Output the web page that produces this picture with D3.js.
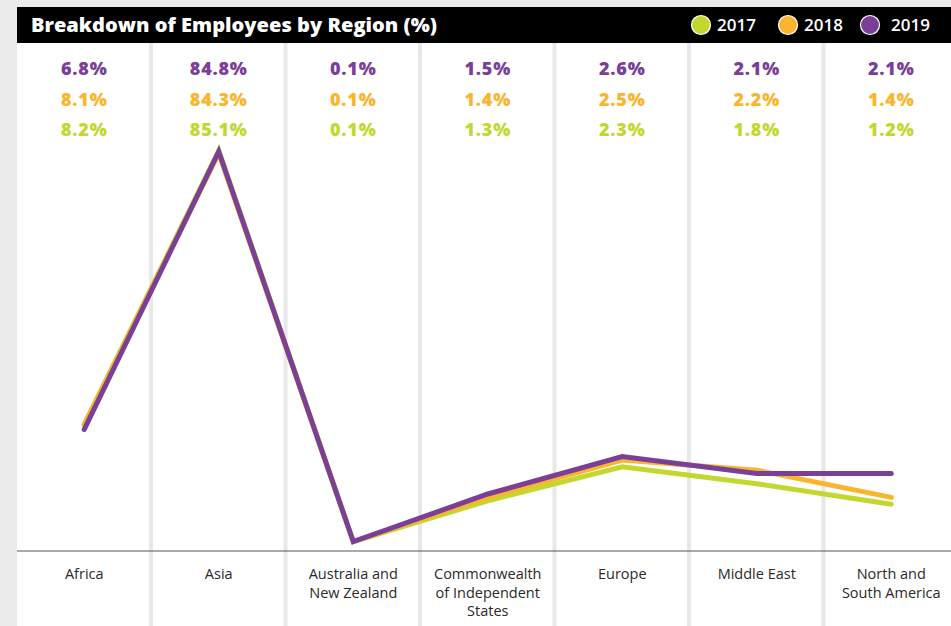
<!DOCTYPE html>
<html>
<head>
<meta charset="utf-8">
<script src="https://cdn.jsdelivr.net/npm/d3@7"></script>
<style>
  body { margin: 0; background: #ebebeb; }
  svg { display: block; font-family: "Open Sans", "Lato", sans-serif; }
</style>
</head>
<body>
<div id="chart"></div>
<script>
// datos del grafico
const regions = ["Africa", "Asia", "Australia and New Zealand", "Commonwealth of Independent States", "Europe", "Middle East", "North and South America"];
const regionLabels = [["Africa"], ["Asia"], ["Australia and", "New Zealand"], ["Commonwealth", "of Independent", "States"], ["Europe"], ["Middle East"], ["North and", "South America"]];
const years = ["2017", "2018", "2019"];
const values2017 = [8.2, 85.1, 0.1, 1.3, 2.3, 1.8, 1.2];
const values2018 = [8.1, 84.3, 0.1, 1.4, 2.5, 2.2, 1.4];
const values2019 = [6.8, 84.8, 0.1, 1.5, 2.6, 2.1, 2.1];
const colors = ["#c3d82f", "#fbb52c", "#7a3f97"];

const width = 951, height = 626;
const left = 17, colW = 134.5;
const headerTop = 7, headerBottom = 43;
const baseY = 551;

const series = [values2017, values2018, values2019];

const svg = d3.select("#chart").append("svg")
    .attr("width", width)
    .attr("height", height);

// fondo blanco del panel
svg.append("rect")
    .attr("x", left).attr("y", headerTop)
    .attr("width", width - left).attr("height", height - headerTop)
    .attr("fill", "#fff");

const x = d3.scaleBand()
    .domain(regions)
    .range([left, left + colW * regions.length]);

// escala por tramos: los valores pequeños ocupan la parte baja
const y = d3.scaleLinear()
    .domain([0, 3, 90])
    .range([baseY - 6, 443, 133]);

// separadores de columnas
svg.selectAll(".sep")
    .data(regions.slice(1))
    .enter().append("line")
    .attr("class", "sep")
    .attr("x1", d => x(d) - 0.5)
    .attr("x2", d => x(d) - 0.5)
    .attr("y1", headerBottom)
    .attr("y2", height)
    .attr("stroke", "#e8e8e8")
    .attr("stroke-width", 4);

// eje base
svg.append("line")
    .attr("x1", left).attr("x2", width)
    .attr("y1", baseY).attr("y2", baseY)
    .attr("stroke", "#555")
    .attr("stroke-width", 1.2);

// cabecera
svg.append("rect")
    .attr("x", left).attr("y", headerTop)
    .attr("width", width - left).attr("height", headerBottom - headerTop)
    .attr("fill", "#000");

svg.append("text")
    .attr("x", 31).attr("y", 32)
    .attr("fill", "#fff")
    .attr("font-size", 19)
    .attr("font-weight", 800)
    .attr("textLength", 406)
    .attr("lengthAdjust", "spacingAndGlyphs")
    .text("Breakdown of Employees by Region (%)");

const legendX = [701, 788, 870];
const legend = svg.selectAll(".legend")
    .data(years)
    .enter().append("g")
    .attr("class", "legend")
    .attr("transform", (d, i) => `translate(${legendX[i]},25)`);

legend.append("circle")
    .attr("r", 9.5)
    .attr("fill", (d, i) => colors[i])
    .attr("stroke", "#fff")
    .attr("stroke-width", 1.2);

legend.append("text")
    .attr("x", (d, i) => i === 2 ? 21 : 16)
    .attr("dy", "0.36em")
    .attr("fill", "#fff")
    .attr("font-size", 17)
    .attr("font-weight", 600)
    .text(d => d);

// valores arriba (2017 abajo, 2019 arriba)
const rowY = [136, 106, 75];
series.forEach((vals, s) => {
    svg.selectAll(".val" + s)
        .data(vals)
        .enter().append("text")
        .attr("x", (d, i) => x(regions[i]) + x.bandwidth() / 2)
        .attr("y", rowY[s])
        .attr("text-anchor", "middle")
        .attr("fill", colors[s])
        .attr("font-size", 18)
        .attr("font-weight", 800)
        .attr("letter-spacing", 0.8)
        .text(d => d.toFixed(1) + "%");
});

// lineas
const line = d3.line()
    .x((d, i) => x(regions[i]) + x.bandwidth() / 2)
    .y(d => y(d));

series.forEach((vals, s) => {
    svg.append("path")
        .datum(vals)
        .attr("d", line)
        .attr("fill", "none")
        .attr("stroke", colors[s])
        .attr("stroke-width", 5)
        .attr("stroke-linecap", "round")
        .attr("stroke-linejoin", "miter");
});

// etiquetas de region
const lab = svg.selectAll(".lab")
    .data(regionLabels)
    .enter().append("text")
    .attr("class", "lab")
    .attr("x", (d, i) => x(regions[i]) + x.bandwidth() / 2)
    .attr("y", 579)
    .attr("text-anchor", "middle")
    .attr("fill", "#2a2a2a")
    .attr("font-size", 14.5)
    .attr("font-weight", 400);

lab.selectAll("tspan")
    .data(d => d)
    .enter().append("tspan")
    .attr("x", function () { return this.parentNode.getAttribute("x"); })
    .attr("dy", (d, i) => i === 0 ? 0 : 18.5)
    .text(d => d);
</script>
</body>
</html>
